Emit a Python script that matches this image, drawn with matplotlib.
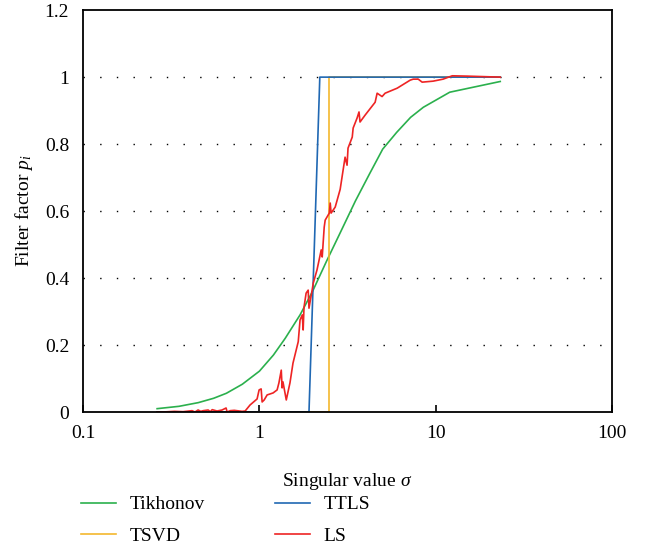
import matplotlib
matplotlib.use("Agg")
import matplotlib.pyplot as plt
from matplotlib.ticker import FixedLocator, FuncFormatter, NullLocator

plt.rcParams['font.family'] = ['Liberation Serif', 'DejaVu Serif']
plt.rcParams['mathtext.fontset'] = 'custom'
plt.rcParams['mathtext.rm'] = 'Liberation Serif'
plt.rcParams['mathtext.it'] = 'Liberation Serif:italic'

# Tikhonov filter factors
sigma_tik = [0.263, 0.35, 0.45, 0.55, 0.65, 0.8, 1.0, 1.2, 1.4, 1.7, 2.0,
             2.4, 2.9, 3.5, 4.2, 5.0, 6.0, 7.2, 8.5, 12.0, 23.2]
p_tik = [0.01, 0.017, 0.028, 0.041, 0.056, 0.083, 0.122, 0.17, 0.22, 0.29, 0.36,
         0.45, 0.54, 0.63, 0.71, 0.785, 0.835, 0.88, 0.91, 0.955, 0.987]

# TSVD
sigma_tsvd = [0.263, 2.47, 2.47, 23.2]
p_tsvd = [0.0, 0.0, 1.0, 1.0]

# TTLS
sigma_ttls = [0.263, 1.91, 2.2, 23.2]
p_ttls = [0.0, 0.0, 1.0, 1.0]

# LS
sigma_ls = [0.263, 0.284, 0.33, 0.369, 0.415, 0.431, 0.449, 0.465, 0.48, 0.512,
            0.527, 0.54, 0.575, 0.614, 0.647, 0.656, 0.683, 0.72, 0.798, 0.83,
            0.885, 0.97, 0.996, 1.023, 1.036, 1.064, 1.106, 1.196, 1.26, 1.29,
            1.33, 1.345, 1.36, 1.42, 1.49, 1.55, 1.66, 1.70, 1.75, 1.77,
            1.79, 1.84, 1.89, 1.91, 1.99, 2.02, 2.12, 2.18, 2.24, 2.27,
            2.33, 2.36, 2.49, 2.52, 2.55, 2.69, 2.87, 3.06, 3.14, 3.18,
            3.36, 3.40, 3.58, 3.67, 3.72, 3.98, 4.53, 4.65, 4.96, 5.16,
            6.04, 7.16, 7.45, 7.95, 8.37, 9.66, 11.0, 12.4, 15.1, 23.2]
p_ls = [0.0, 0.0, 0.002, 0.001, 0.004, 0.0, 0.006, 0.002, 0.004, 0.006,
        0.001, 0.007, 0.003, 0.006, 0.012, 0.0, 0.004, 0.005, 0.002, 0.003,
        0.021, 0.039, 0.066, 0.069, 0.030, 0.036, 0.051, 0.057, 0.066, 0.087,
        0.125, 0.072, 0.090, 0.036, 0.087, 0.146, 0.210, 0.275, 0.290, 0.245,
        0.313, 0.355, 0.364, 0.310, 0.364, 0.385, 0.424, 0.454, 0.484, 0.463,
        0.552, 0.573, 0.594, 0.624, 0.594, 0.612, 0.665, 0.761, 0.737, 0.788,
        0.821, 0.848, 0.878, 0.896, 0.866, 0.887, 0.925, 0.952, 0.942, 0.952,
        0.967, 0.991, 0.994, 0.994, 0.985, 0.988, 0.994, 1.004, 1.003, 1.0]

fig = plt.figure(figsize=(6.54, 5.52), dpi=100)
ax = fig.add_axes([0.127, 0.2536, 0.809, 0.728])

ax.plot(sigma_tik, p_tik, color='#2bb04d', lw=1.2, label='Tikhonov')
ax.plot(sigma_tsvd, p_tsvd, color='#f4b82e', lw=1.2, label='TSVD')
ax.plot(sigma_ttls, p_ttls, color='#2068b3', lw=1.2, label='TTLS')
ax.plot(sigma_ls, p_ls, color='#ee2424', lw=1.2, label='LS')

ax.set_xscale('log')
ax.set_xlim(0.1, 100)
ax.set_ylim(0, 1.2)
ax.xaxis.set_major_locator(FixedLocator([0.1, 1, 10, 100]))
ax.xaxis.set_minor_locator(NullLocator())
ax.xaxis.set_major_formatter(FuncFormatter(lambda v, _: '{:g}'.format(v)))
ax.yaxis.set_major_locator(FixedLocator([0, 0.2, 0.4, 0.6, 0.8, 1.0, 1.2]))
ax.yaxis.set_major_formatter(FuncFormatter(lambda v, _: '{:g}'.format(round(v, 1))))
ax.tick_params(direction='in', length=5, width=1.2, labelsize=14, pad=9)
ax.tick_params(axis='y', length=0, pad=10)

for y in [0.2, 0.4, 0.6, 0.8, 1.0]:
    ax.axhline(y, color='black', lw=1.0, linestyle=(0, (1, 11)), zorder=0)

for s in ax.spines.values():
    s.set_linewidth(1.3)

ax.set_xlabel(r'Singular value $\sigma$', fontsize=14, labelpad=21)
ax.set_ylabel(r'Filter factor $p_i$', fontsize=14, labelpad=7)

fig.legend(loc='upper left', bbox_to_anchor=(0.112, 0.116), ncol=2, frameon=False,
           fontsize=14, handlelength=1.8, columnspacing=3.6, labelspacing=0.7,
           borderaxespad=0, handletextpad=0.7)

fig.savefig('out.png', dpi=100)
